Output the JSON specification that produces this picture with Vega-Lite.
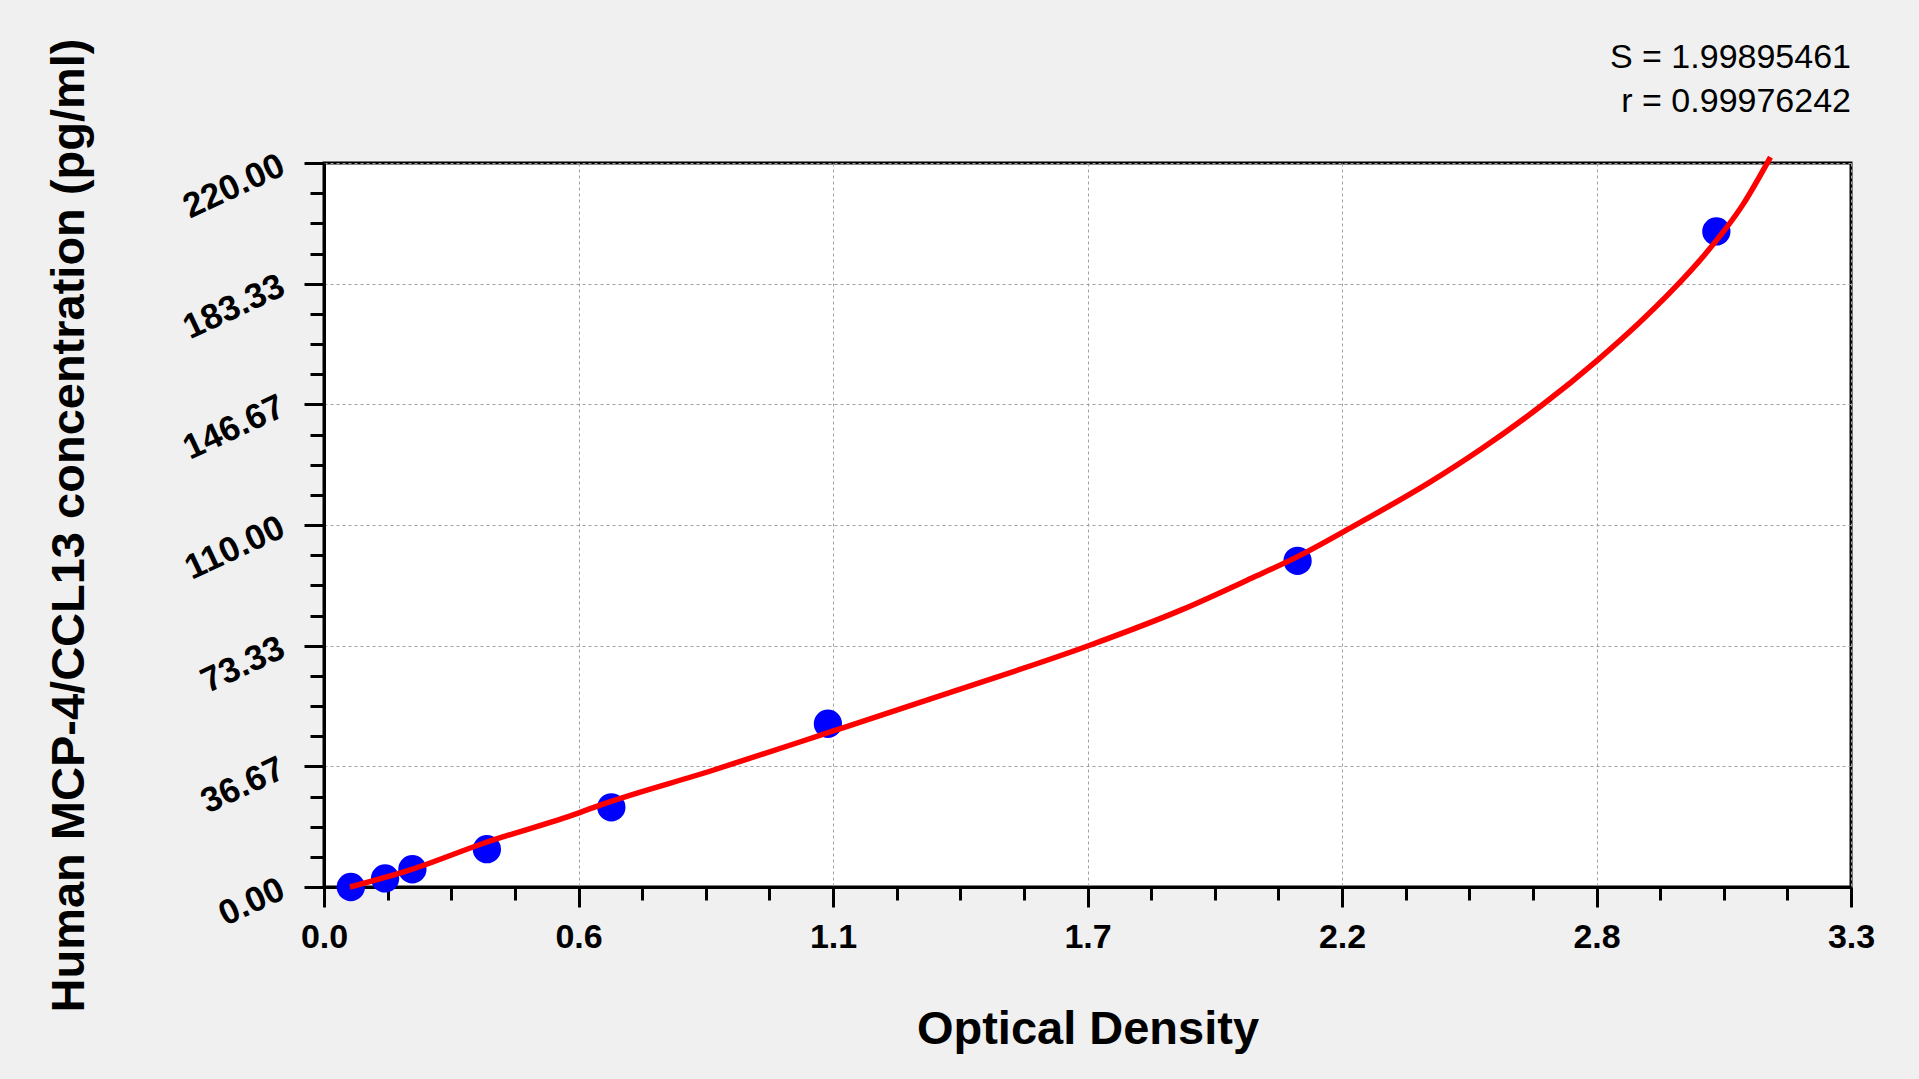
{
  "$schema": "https://vega.github.io/schema/vega-lite/v6.json",
  "width": 1527,
  "height": 724,
  "autosize": {"type": "none"},
  "padding": {"left": 324, "top": 163, "right": 68, "bottom": 192},
  "background": "#F0F0F0",
  "view": {"fill": "white", "stroke": "black", "strokeWidth": 3},
  "datasets": {
    "points": [
      {"od": 0.058, "conc": 0},
      {"od": 0.132, "conc": 2.6},
      {"od": 0.191, "conc": 5.4},
      {"od": 0.352, "conc": 11.5},
      {"od": 0.621, "conc": 24.2},
      {"od": 1.089, "conc": 49.6},
      {"od": 2.104, "conc": 99.1},
      {"od": 3.009, "conc": 199.2}
    ],
    "curve": [
      {"od": 0.056, "conc": 0},
      {"od": 0.186, "conc": 5.2},
      {"od": 0.345, "conc": 13.3},
      {"od": 0.548, "conc": 22.4},
      {"od": 0.597, "conc": 24.9},
      {"od": 0.839, "conc": 35.4},
      {"od": 1.096, "conc": 47.2},
      {"od": 1.37, "conc": 59.9},
      {"od": 1.652, "conc": 73.3},
      {"od": 1.853, "conc": 84.2},
      {"od": 2.004, "conc": 93.8},
      {"od": 2.104, "conc": 100.4},
      {"od": 2.224, "conc": 109.6},
      {"od": 2.383, "conc": 122.4},
      {"od": 2.5, "conc": 133.0},
      {"od": 2.634, "conc": 146.6},
      {"od": 2.753, "conc": 160.2},
      {"od": 2.839, "conc": 171.0},
      {"od": 2.915, "conc": 181.5},
      {"od": 2.983, "conc": 192.0},
      {"od": 3.067, "conc": 207.5},
      {"od": 3.126, "conc": 221.8}
    ],
    "stats": [
      {"label": "S = 1.99895461"},
      {"label": "r = 0.99976242"}
    ]
  },
  "layer": [
    {
      "data": {"name": "points"},
      "mark": {"type": "circle", "size": 800, "color": "#0000FF", "opacity": 1},
      "encoding": {
        "x": {
          "field": "od",
          "type": "quantitative",
          "scale": {"domain": [0, 3.3], "nice": false, "zero": false},
          "axis": {
            "orient": "bottom",
            "values": [0, 0.55, 1.1, 1.65, 2.2, 2.75, 3.3],
            "labelExpr": "format(datum.value + 0.0001, '.1f')",
            "title": "Optical Density",
            "titleFont": "Liberation Sans",
            "titleFontSize": 47,
            "titleFontWeight": "bold",
            "titleColor": "black",
            "titleBaseline": "alphabetic",
            "titleY": 156,
            "labelFont": "Liberation Sans",
            "labelFontSize": 34,
            "labelFontWeight": "bold",
            "labelColor": "black",
            "labelPadding": 13,
            "labelFlush": false,
            "labelOverlap": false,
            "tickSize": 20,
            "tickWidth": 3,
            "tickColor": "black",
            "domainColor": "black",
            "domainWidth": 3,
            "grid": true,
            "gridColor": "#A0A0A0",
            "gridDash": [3, 3],
            "gridWidth": 1
          }
        },
        "y": {
          "field": "conc",
          "type": "quantitative",
          "scale": {"domain": [0, 220], "nice": false},
          "axis": {
            "orient": "left",
            "values": [0, 36.6667, 73.3333, 110, 146.6667, 183.3333, 220],
            "format": ".2f",
            "title": "Human MCP-4/CCL13 concentration (pg/ml)",
            "titleFont": "Liberation Sans",
            "titleFontSize": 47,
            "titleFontWeight": "bold",
            "titleColor": "black",
            "titleBaseline": "alphabetic",
            "titleX": -241,
            "labelFont": "Liberation Sans",
            "labelFontSize": 35,
            "labelFontWeight": "bold",
            "labelColor": "black",
            "labelAngle": -25,
            "labelAlign": "right",
            "labelBaseline": "middle",
            "labelPadding": 22,
            "labelFlush": false,
            "labelOverlap": false,
            "tickSize": 20,
            "tickWidth": 3,
            "tickColor": "black",
            "domainColor": "black",
            "domainWidth": 3,
            "grid": true,
            "gridColor": "#A0A0A0",
            "gridDash": [3, 3],
            "gridWidth": 1
          }
        }
      }
    },
    {
      "data": {"name": "curve"},
      "mark": {"type": "line", "color": "#FF0000", "strokeWidth": 5.5, "interpolate": "monotone"},
      "encoding": {
        "x": {
          "field": "od",
          "type": "quantitative",
          "axis": {
            "orient": "bottom",
            "values": [0.1375, 0.275, 0.4125, 0.6875, 0.825, 0.9625, 1.2375, 1.375, 1.5125, 1.7875, 1.925, 2.0625, 2.3375, 2.475, 2.6125, 2.8875, 3.025, 3.1625],
            "labels": false,
            "domain": false,
            "grid": false,
            "title": null,
            "tickSize": 13,
            "tickWidth": 3,
            "tickColor": "black"
          }
        },
        "y": {
          "field": "conc",
          "type": "quantitative",
          "axis": {
            "orient": "left",
            "values": [9.1667, 18.3333, 27.5, 45.8333, 55, 64.1667, 82.5, 91.6667, 100.8333, 119.1667, 128.3333, 137.5, 155.8333, 165, 174.1667, 192.5, 201.6667, 210.8333],
            "labels": false,
            "domain": false,
            "grid": false,
            "title": null,
            "tickSize": 14,
            "tickWidth": 3,
            "tickColor": "black"
          }
        }
      }
    },
    {
      "data": {"name": "stats"},
      "transform": [{"filter": "datum.label[0] == 'S'"}],
      "mark": {"type": "text", "align": "right", "baseline": "alphabetic", "font": "Liberation Sans", "fontSize": 34, "color": "black"},
      "encoding": {
        "x": {"datum": 3.3, "type": "quantitative", "axis": null},
        "y": {"datum": 249, "type": "quantitative", "axis": null},
        "text": {"field": "label"}
      }
    },
    {
      "data": {"name": "stats"},
      "transform": [{"filter": "datum.label[0] == 'r'"}],
      "mark": {"type": "text", "align": "right", "baseline": "alphabetic", "font": "Liberation Sans", "fontSize": 34, "color": "black"},
      "encoding": {
        "x": {"datum": 3.3, "type": "quantitative", "axis": null},
        "y": {"datum": 235.6, "type": "quantitative", "axis": null},
        "text": {"field": "label"}
      }
    }
  ],
  "resolve": {"axis": {"x": "independent", "y": "independent"}}
}
